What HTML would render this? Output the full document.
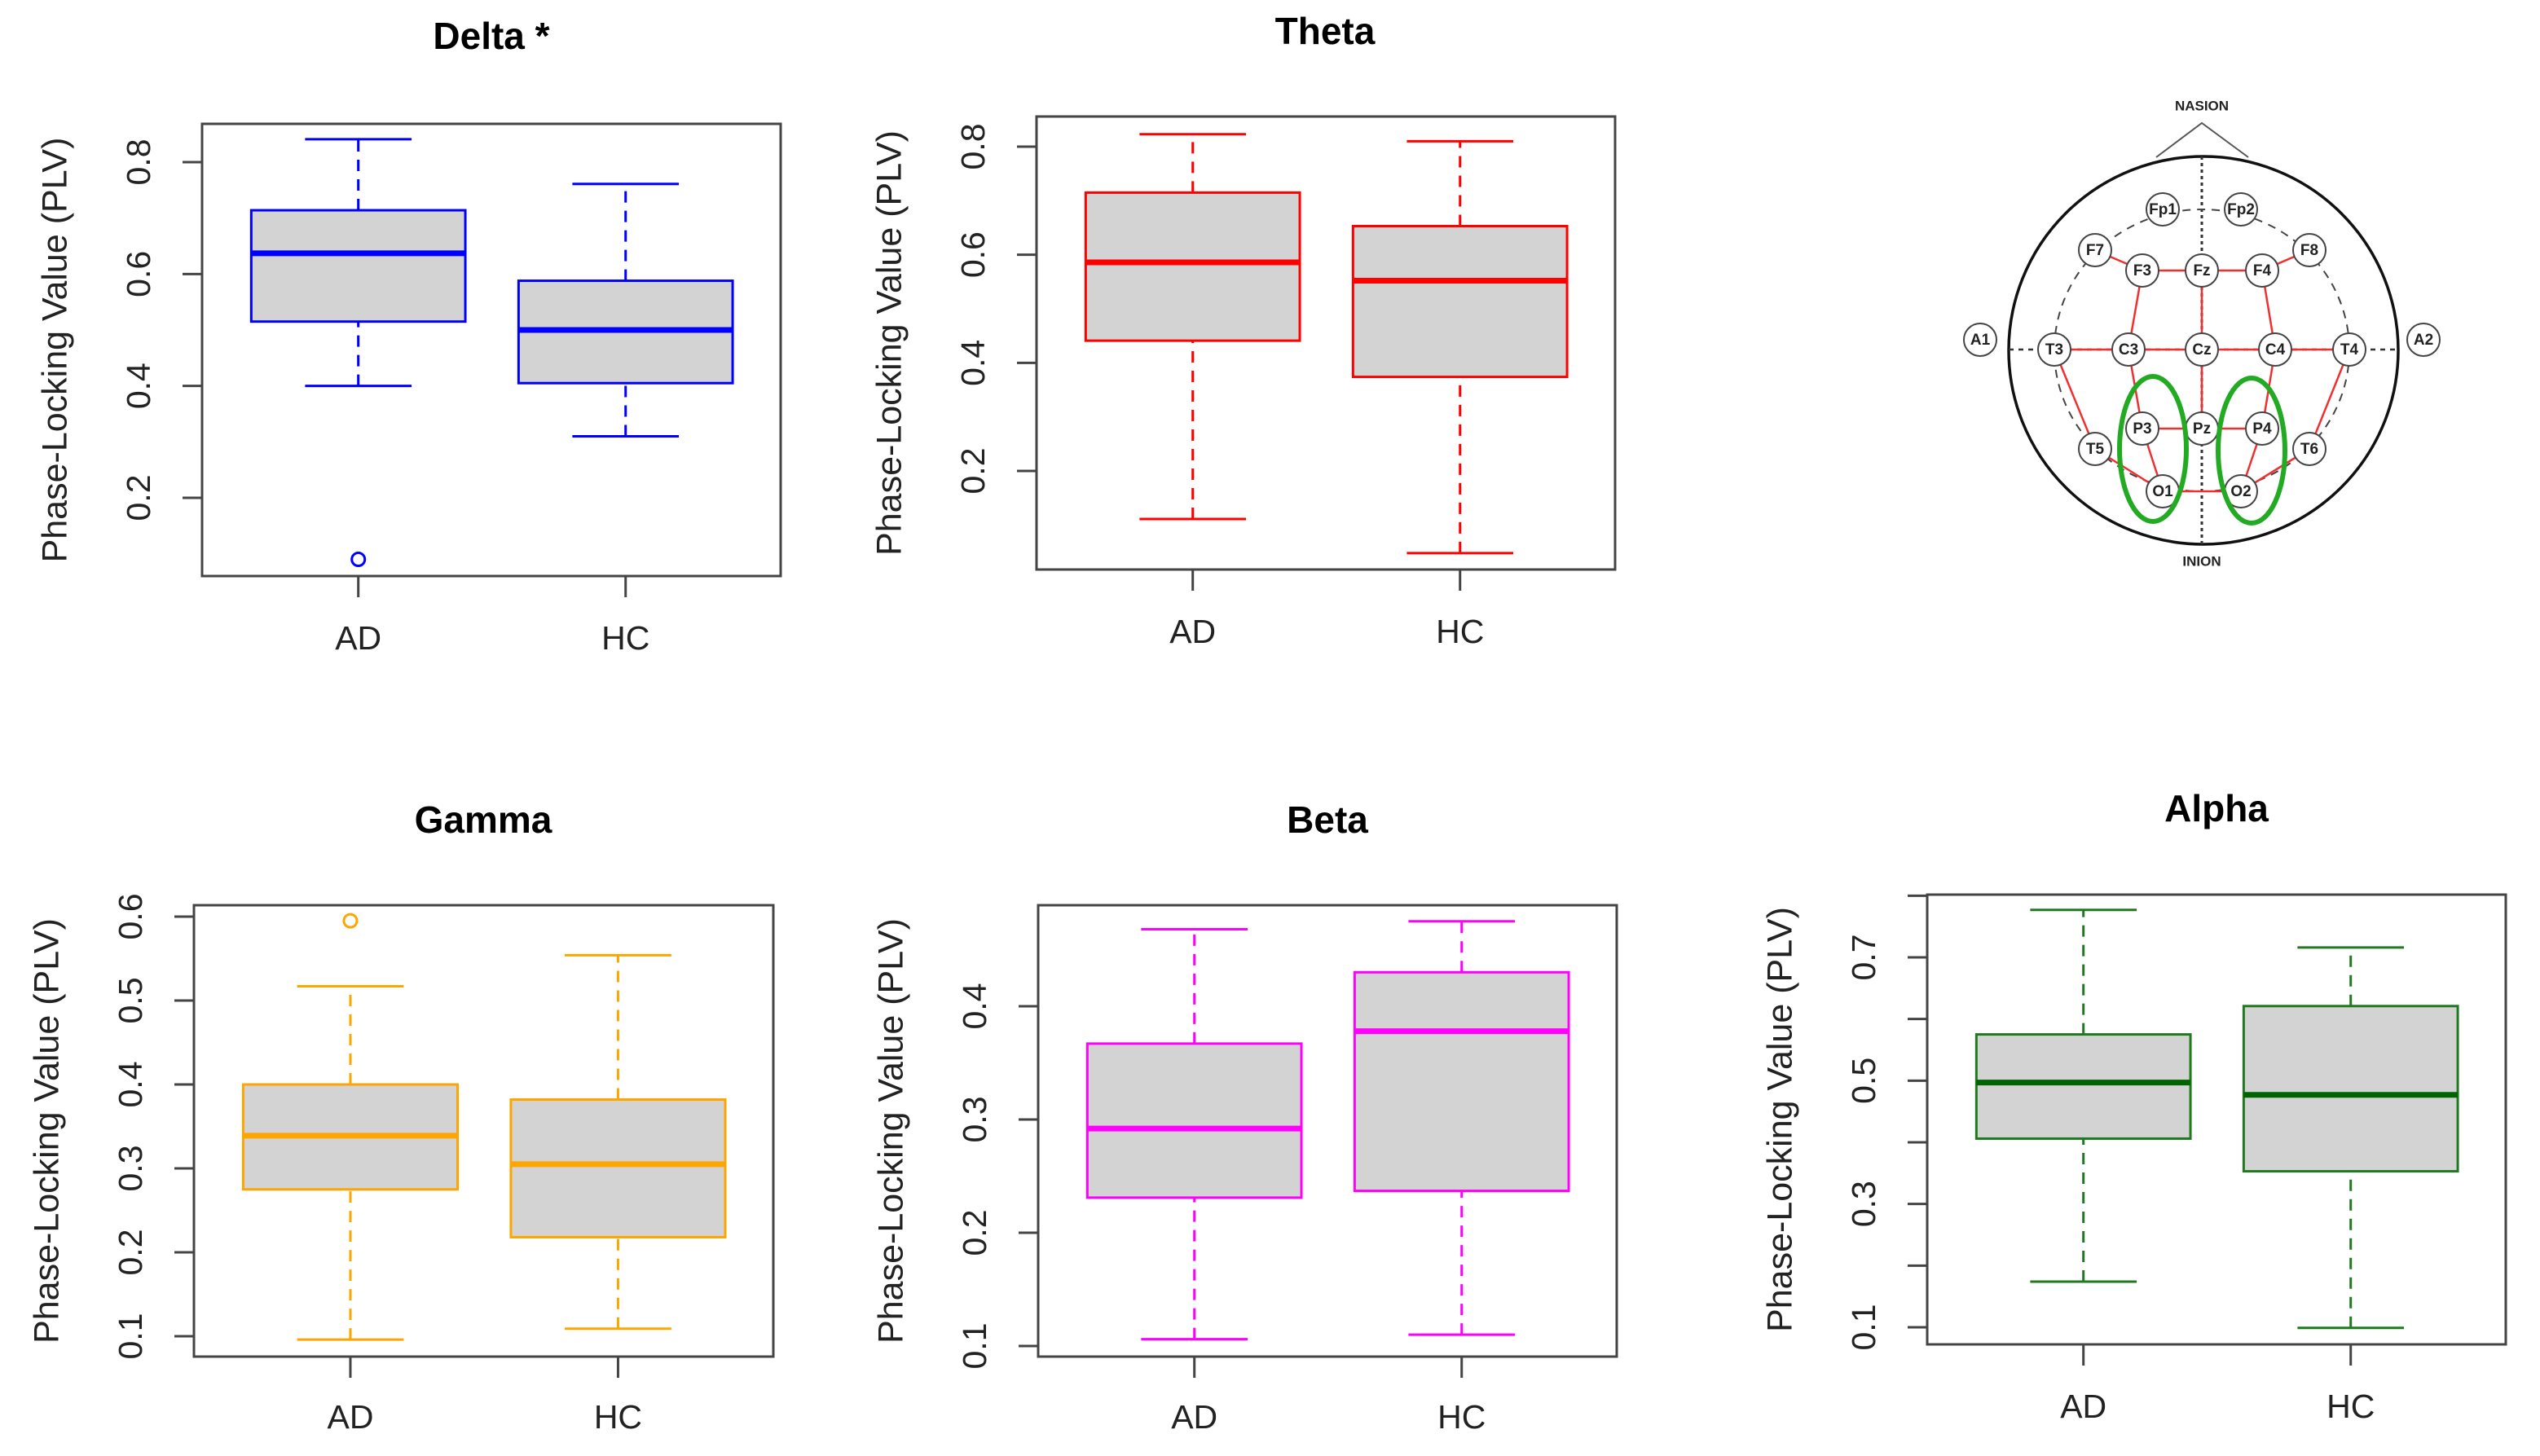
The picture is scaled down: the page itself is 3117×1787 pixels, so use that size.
<!DOCTYPE html>
<html><head><meta charset="utf-8">
<style>
html,body{margin:0;padding:0;background:#fff;}
svg{display:block;}
text{font-family:"Liberation Sans",Arial,sans-serif;}
</style></head>
<body>
<svg id="fig" width="3117" height="1787" viewBox="0 0 3117 1787" xmlns="http://www.w3.org/2000/svg">
<g id="plots"></g>
<g id="head"></g>
</svg>
<script>
// ---- data (five-number summaries + outliers), order: [lowerWhisker, Q1, median, Q3, upperWhisker]
const groups = ["AD", "HC"];
const deltaAD = [0.40, 0.515, 0.637, 0.714, 0.841];
const deltaHC = [0.31, 0.405, 0.500, 0.588, 0.761];
const deltaOutAD = [0.09];
const deltaOutHC = [];
const deltaTicks = [0.2, 0.4, 0.6, 0.8];
const thetaAD = [0.111, 0.441, 0.586, 0.715, 0.823];
const thetaHC = [0.048, 0.374, 0.552, 0.653, 0.810];
const thetaOutAD = [];
const thetaOutHC = [];
const thetaTicks = [0.2, 0.4, 0.6, 0.8];
const gammaAD = [0.096, 0.275, 0.339, 0.400, 0.517];
const gammaHC = [0.109, 0.218, 0.305, 0.382, 0.554];
const gammaOutAD = [0.595];
const gammaOutHC = [];
const gammaTicks = [0.1, 0.2, 0.3, 0.4, 0.5, 0.6];
const betaAD = [0.106, 0.231, 0.292, 0.367, 0.468];
const betaHC = [0.110, 0.237, 0.378, 0.430, 0.475];
const betaOutAD = [];
const betaOutHC = [];
const betaTicks = [0.1, 0.2, 0.3, 0.4];
const alphaAD = [0.174, 0.406, 0.497, 0.575, 0.777];
const alphaHC = [0.099, 0.353, 0.477, 0.621, 0.716];
const alphaOutAD = [];
const alphaOutHC = [];
const alphaTicks = [0.1, 0.2, 0.3, 0.4, 0.5, 0.6, 0.7, 0.8];
const alphaTickLabels = ["0.1", "", "0.3", "", "0.5", "", "0.7", ""];

const NS = "http://www.w3.org/2000/svg";
function mk(tag, attrs, parent) {
  const e = document.createElementNS(NS, tag);
  for (const k in attrs) e.setAttribute(k, attrs[k]);
  parent.appendChild(e);
  return e;
}

const panels = [
  {key:"delta", title:"Delta *", color:"#0000ff", L:248, R:958, T:152, B:707, v0:0.2, p0:611, v1:0.8, p1:199, tx:603, ty:48, xl:786,
   data:[deltaAD, deltaHC], out:[deltaOutAD, deltaOutHC], ticks:deltaTicks, labels:null, dec:1},
  {key:"theta", title:"Theta", color:"#ff0000", L:1272, R:1982, T:143, B:699, v0:0.2, p0:578, v1:0.8, p1:180, tx:1626, ty:42, xl:778,
   data:[thetaAD, thetaHC], out:[thetaOutAD, thetaOutHC], ticks:thetaTicks, labels:null, dec:1},
  {key:"gamma", title:"Gamma", color:"#ffa500", L:238, R:949, T:1111, B:1665, v0:0.1, p0:1640, v1:0.6, p1:1125, tx:593, ty:1010, xl:1742,
   data:[gammaAD, gammaHC], out:[gammaOutAD, gammaOutHC], ticks:gammaTicks, labels:null, dec:1},
  {key:"beta", title:"Beta", color:"#ff00ff", L:1274, R:1984, T:1111, B:1665, v0:0.1, p0:1652, v1:0.4, p1:1235, tx:1629, ty:1010, xl:1742,
   data:[betaAD, betaHC], out:[betaOutAD, betaOutHC], ticks:betaTicks, labels:null, dec:1},
  {key:"alpha", title:"Alpha", color:"#1f7a1f", med:"#006400", L:2365, R:3075, T:1098, B:1650, v0:0.1, p0:1629, v1:0.7, p1:1175, tx:2720, ty:996, xl:1729,
   data:[alphaAD, alphaHC], out:[alphaOutAD, alphaOutHC], ticks:alphaTicks, labels:alphaTickLabels, dec:1}
];

const root = document.getElementById("plots");
panels.forEach(p => {
  const g = mk("g", {}, root);
  
  
  const y = v => p.p0 + (v - p.v0) * (p.p1 - p.p0) / (p.v1 - p.v0);
  const w = p.R - p.L;
  const x = i => p.L + w * (0.27 + 0.462 * i);
  const halfBox = w * 0.185, halfCap = w * 0.092;

  const t = mk("text", {x:p.tx, y:p.ty, "text-anchor":"middle", "dominant-baseline":"middle", "font-size":46, "font-weight":"bold", fill:"#000"}, g);
  t.textContent = p.title;
  
  

  const yl = mk("text", {transform:`translate(${p.L-178},${(p.T+p.B)/2}) rotate(-90)`, "text-anchor":"middle", "dominant-baseline":"middle", "font-size":43, fill:"#222"}, g);
  yl.textContent = "Phase-Locking Value (PLV)";
  
  

  p.ticks.forEach((v, i) => {
    const py = y(v);
    const tk = mk("line", {x1:p.L-24, x2:p.L, y1:py, y2:py, stroke:"#444", "stroke-width":3}, g);
    
    
    const lab = p.labels ? p.labels[i] : v.toFixed(p.dec);
    if (lab) {
      const tl = mk("text", {transform:`translate(${p.L-75},${py}) rotate(-90)`, "text-anchor":"middle", "dominant-baseline":"middle", "font-size":41, fill:"#222"}, g);
      tl.textContent = lab;
      
      
    }
  });

  groups.forEach((name, i) => {
    const cx = x(i), d = p.data[i];
    const bg = mk("g", {}, g);
    
    
    mk("line", {x1:cx, x2:cx, y1:y(d[0]), y2:y(d[1]), stroke:p.color, "stroke-width":3, "stroke-dasharray":"14 10"}, bg);
    mk("line", {x1:cx, x2:cx, y1:y(d[3]), y2:y(d[4]), stroke:p.color, "stroke-width":3, "stroke-dasharray":"14 10"}, bg);
    mk("line", {x1:cx-halfCap, x2:cx+halfCap, y1:y(d[0]), y2:y(d[0]), stroke:p.color, "stroke-width":3}, bg);
    mk("line", {x1:cx-halfCap, x2:cx+halfCap, y1:y(d[4]), y2:y(d[4]), stroke:p.color, "stroke-width":3}, bg);
    mk("rect", {x:cx-halfBox, y:y(d[3]), width:2*halfBox, height:y(d[1])-y(d[3]), fill:"#d3d3d3", stroke:p.color, "stroke-width":3}, bg);
    mk("line", {x1:cx-halfBox, x2:cx+halfBox, y1:y(d[2]), y2:y(d[2]), stroke:p.med || p.color, "stroke-width":7}, bg);
    p.out[i].forEach(o => {
      const c = mk("circle", {cx:cx, cy:y(o), r:8, fill:"none", stroke:p.color, "stroke-width":3}, g);
      
      
    });
    const xt = mk("line", {x1:cx, x2:cx, y1:p.B, y2:p.B+26, stroke:"#444", "stroke-width":3}, g);
    
    
    const xl = mk("text", {x:cx, y:p.xl, "text-anchor":"middle", "dominant-baseline":"middle", "font-size":41, fill:"#222"}, g);
    xl.textContent = name;
    
    
  });

  const fr = mk("rect", {x:p.L, y:p.T, width:w, height:p.B-p.T, fill:"none", stroke:"#444", "stroke-width":3}, g);
  
  
});

// ---- head diagram
const H = document.getElementById("head");
const el = {
  Fp1:[2654,257], Fp2:[2750,257], F7:[2571,307], F3:[2629,332], Fz:[2702,332], F4:[2776,332], F8:[2834,307],
  A1:[2430,417], T3:[2521,429], C3:[2612,429], Cz:[2702,429], C4:[2792,429], T4:[2883,429], A2:[2974,417],
  T5:[2571,551], P3:[2629,526], Pz:[2702,526], P4:[2776,526], T6:[2834,551], O1:[2654,603], O2:[2750,603]
};
mk("polyline", {points:"2646,193 2702,151 2759,193", fill:"none", stroke:"#555", "stroke-width":2}, H);
mk("ellipse", {cx:2704, cy:430, rx:239, ry:238, fill:"none", stroke:"#111", "stroke-width":3.5}, H);
mk("line", {x1:2702, x2:2702, y1:192, y2:668, stroke:"#333", "stroke-width":3, "stroke-dasharray":"4 4"}, H);
mk("line", {x1:2465, x2:2943, y1:429, y2:429, stroke:"#333", "stroke-width":2.5, "stroke-dasharray":"6 6"}, H);
mk("ellipse", {cx:2702, cy:430, rx:181, ry:173, fill:"none", stroke:"#444", "stroke-width":2, "stroke-dasharray":"10 8"}, H);
const links = [["F7","F3"],["F3","Fz"],["Fz","F4"],["F4","F8"],["F3","C3"],["F4","C4"],["Fz","Cz"],["T3","C3"],["C3","Cz"],["Cz","C4"],["C4","T4"],
  ["C3","P3"],["C4","P4"],["Cz","Pz"],["T3","T5"],["T4","T6"],["P3","Pz"],["Pz","P4"],["P3","O1"],["P4","O2"],["T5","O1"],["T6","O2"],["O1","O2"]];
links.forEach(([a,b]) => {
  mk("line", {x1:el[a][0], y1:el[a][1], x2:el[b][0], y2:el[b][1], stroke:"#f03030", "stroke-width":2.5}, H);
});
Object.keys(el).forEach(k => {
  const eg = mk("g", {}, H);
  
  
  mk("circle", {cx:el[k][0], cy:el[k][1], r:20, fill:"#fff", stroke:"#444", "stroke-width":2}, eg);
  const t = mk("text", {x:el[k][0], y:el[k][1]+1, "text-anchor":"middle", "dominant-baseline":"middle", "font-size":19, "font-weight":"bold", fill:"#222"}, eg);
  t.textContent = k;
});
mk("ellipse", {cx:2642, cy:551, rx:41, ry:89, fill:"none", stroke:"#22aa22", "stroke-width":6}, H);
mk("ellipse", {cx:2763, cy:553, rx:41, ry:89, fill:"none", stroke:"#22aa22", "stroke-width":6}, H);
const na = mk("text", {x:2702, y:131, "text-anchor":"middle", "dominant-baseline":"middle", "font-size":17, "font-weight":"bold", fill:"#222"}, H);
na.textContent = "NASION";


const ini = mk("text", {x:2702, y:690, "text-anchor":"middle", "dominant-baseline":"middle", "font-size":17, "font-weight":"bold", fill:"#222"}, H);
ini.textContent = "INION";


</script>
</body></html>
